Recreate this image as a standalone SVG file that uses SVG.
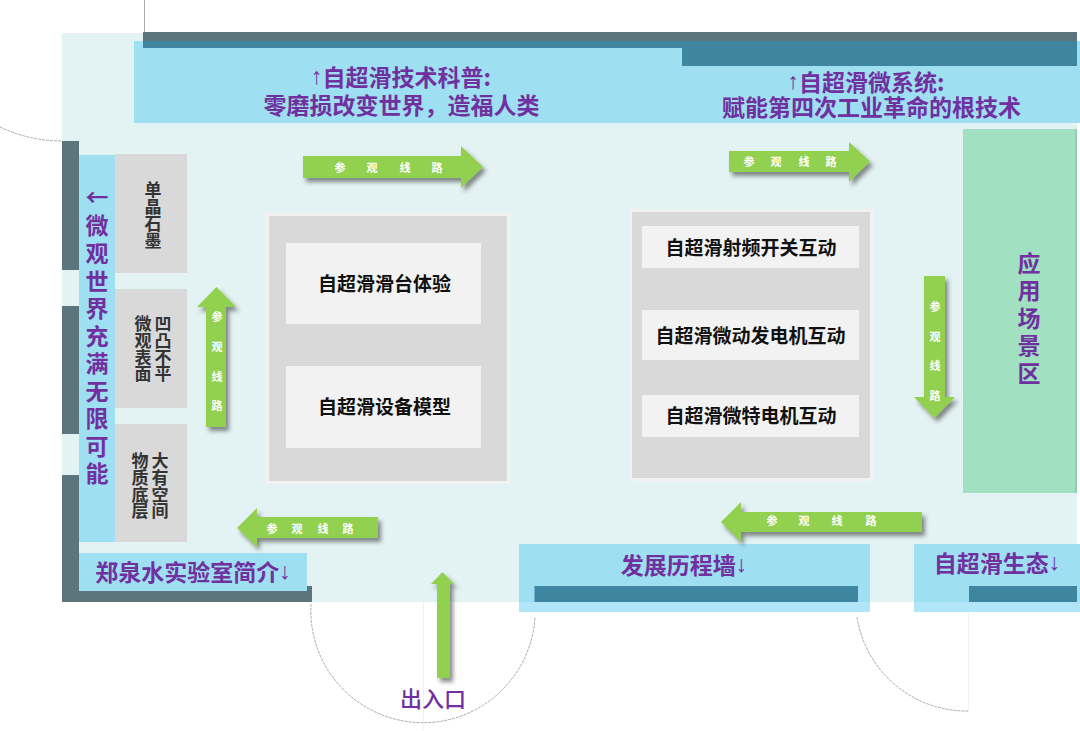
<svg xmlns="http://www.w3.org/2000/svg" width="1080" height="731" viewBox="0 0 1080 731">
<style>
text{font-family:"Noto Sans CJK SC","Noto Sans",sans-serif;text-anchor:middle;dominant-baseline:central}
.p{fill:#7030a0;font-size:23px;font-weight:700}
.a{font-family:"Liberation Sans",sans-serif}
.k{fill:#111;font-size:19px;font-weight:700}
.g{fill:#333;font-size:17px;font-weight:700}
.w{fill:#fff;font-size:11px;font-weight:700}
.wall{fill:#5c747b}
.teal{fill:#3f85a0}
.blue{fill:#9fdff2}
.pale{fill:#b0e6f8}
.grey{fill:#d9d9d9}
.lite{fill:#f2f2f2}
.arc{fill:none;stroke:#aaa;stroke-width:1;stroke-dasharray:3 1}
.hair{stroke:#f0f0f0;stroke-width:1}
.arrow{fill:#92d14f;filter:url(#s)}
</style>
<defs>
<filter id="s" x="-20%" y="-20%" width="150%" height="150%"><feDropShadow dx="3" dy="4" stdDeviation="2.2" flood-color="#333" flood-opacity=".55"/></filter>
</defs>
<rect width="1080" height="731" fill="#fff"/>
<rect id="floor" x="62" y="33" width="1015" height="569" fill="#e3f2f2"/>
<g id="walls">
<line x1="144.500" y1="0" x2="144.500" y2="32" stroke="#aaa"/>
<path class="arc" d="M0 127A144 144 0 0 0 62 141"/>
<path class="arc" d="M311 604A112 112 0 0 0 535 617"/>
<path class="arc" d="M857 617A111 111 0 0 0 968 711"/>
<line class="hair" x1="423.500" y1="602" x2="423.500" y2="730"/>
<line class="hair" x1="968.500" y1="612" x2="968.500" y2="711"/>
<rect class="wall" x="62" y="141" width="17" height="129"/>
<rect class="wall" x="62" y="306" width="17" height="128"/>
<rect class="wall" x="62" y="475" width="17" height="127"/>
<rect class="wall" x="79" y="586" width="233" height="16"/>
</g>
<g id="wall-top-left">
<rect class="blue" x="134" y="41" width="946" height="82"/>
<rect class="wall" x="143" y="32" width="934" height="9"/>
<rect class="teal" x="143" y="41" width="539" height="7"/>
<rect class="teal" x="682" y="41" width="395" height="25"/>
<text class="p" x="401" y="76"><tspan class="a">↑</tspan>自超滑技术科普:</text>
<text class="p" x="401.500" y="104">零磨损改变世界，造福人类</text>
</g>
<g id="wall-top-right">
<text class="p" x="866" y="81"><tspan class="a">↑</tspan>自超滑微系统:</text>
<text class="p" x="871.500" y="106">赋能第四次工业革命的根技术</text>
</g>
<g id="wall-left">
<rect class="blue" x="79" y="155" width="36" height="387"/>
<text class="p" x="97 97 97 97 97 97 97 97 97 97 97" y="196 224 252 280 307 335 362 390 417 445 472">←微观世界充满无限可能</text>
</g>
<g id="panel-graphite">
<rect class="grey" x="115" y="154" width="72" height="119"/>
<text class="g" x="153 153 153 153" y="188 205 222 239">单晶石墨</text>
</g>
<g id="panel-surface">
<rect class="grey" x="115" y="289" width="72" height="119"/>
<text class="g" x="163 163 163 163" y="322 339 356 372">凹凸不平</text>
<text class="g" x="143 143 143 143" y="322 339 356 372">微观表面</text>
</g>
<g id="panel-matter">
<rect class="grey" x="115" y="424" width="72" height="118"/>
<text class="g" x="160 160 160 160" y="459 476 493 509">大有空间</text>
<text class="g" x="140 140 140 140" y="459 476 493 509">物质底层</text>
</g>
<g id="intro">
<rect class="blue" x="79" y="553" width="228" height="38"/>
<text class="p" x="193" y="571">郑泉水实验室简介<tspan class="a">↓</tspan></text>
</g>
<g id="zone-left">
<rect class="lite" x="266" y="213" width="244" height="271"/>
<rect class="grey" x="269" y="216" width="238" height="265"/>
<rect class="lite" x="286" y="243" width="195" height="81"/>
<rect class="lite" x="286" y="366" width="195" height="82"/>
<text class="k" x="384.500" y="282">自超滑滑台体验</text>
<text class="k" x="384.500" y="405">自超滑设备模型</text>
</g>
<g id="zone-right">
<rect class="lite" x="630" y="209" width="243" height="272"/>
<rect class="grey" x="632" y="212" width="238" height="266"/>
<rect class="lite" x="642" y="226" width="217" height="42"/>
<rect class="lite" x="642" y="310" width="217" height="50"/>
<rect class="lite" x="642" y="395" width="217" height="42"/>
<text class="k" x="751" y="246">自超滑射频开关互动</text>
<text class="k" x="750.500" y="334">自超滑微动发电机互动</text>
<text class="k" x="751" y="414">自超滑微特电机互动</text>
</g>
<g id="zone-application">
<rect x="963" y="129" width="114" height="364" fill="#a1e0c1"/>
<rect x="1075" y="129" width="2" height="364" fill="#8fcfb0"/>
<text class="p" x="1029 1029 1029 1029 1029" y="262 289 317 344 372">应用场景区</text>
</g>
<g id="wall-history">
<rect class="blue" x="519" y="544" width="351" height="58"/>
<rect class="pale" x="519" y="602" width="351" height="10"/>
<rect class="teal" x="534.500" y="586" width="323.500" height="16"/>
<text class="p" x="684" y="564">发展历程墙<tspan class="a">↓</tspan></text>
</g>
<g id="wall-ecology">
<rect class="blue" x="914" y="544" width="166" height="58"/>
<rect class="pale" x="914" y="602" width="166" height="10"/>
<rect class="teal" x="969" y="586" width="108" height="16"/>
<text class="p" x="997" y="562">自超滑生态<tspan class="a">↓</tspan></text>
</g>
<g id="connectors">
<path class="arrow" d="M303 156H461V146L483 167 461 188V178H303Z"/>
<path class="arrow" d="M729 151H849V142L870 161.500 849 182V172H729Z"/>
<path class="arrow" d="M924 276H945V397H955L934.500 418 914 397H924Z"/>
<path class="arrow" d="M206 427V307H197L216.500 287 236 307H226V427Z"/>
<path class="arrow" d="M378 517H257V508L237 528 257 547V538H378Z"/>
<path class="arrow" d="M922 512H741V502L721 522 741 542V532H922Z"/>
<path class="arrow" d="M437 678V584H431L442.500 572 454 584H450V678Z"/>
<text class="w" x="340" y="167">参</text><text class="w" x="372" y="167">观</text><text class="w" x="405" y="167">线</text><text class="w" x="437" y="167">路</text>
<text class="w" x="749" y="161">参</text><text class="w" x="776" y="161">观</text><text class="w" x="804" y="161">线</text><text class="w" x="831" y="161">路</text>
<text class="w" x="935" y="306">参</text><text class="w" x="935" y="336">观</text><text class="w" x="935" y="365">线</text><text class="w" x="935" y="395">路</text>
<text class="w" x="217" y="316">参</text><text class="w" x="217" y="346">观</text><text class="w" x="217" y="376">线</text><text class="w" x="217" y="405">路</text>
<text class="w" x="272" y="528">参</text><text class="w" x="297" y="528">观</text><text class="w" x="323" y="528">线</text><text class="w" x="348" y="528">路</text>
<text class="w" x="772" y="520">参</text><text class="w" x="804" y="520">观</text><text class="w" x="837" y="520">线</text><text class="w" x="871" y="520">路</text>
</g>
<g id="entrance">
<text x="433" y="697" fill="#7030a0" font-size="22" font-weight="500">出入口</text>
</g>
</svg>
